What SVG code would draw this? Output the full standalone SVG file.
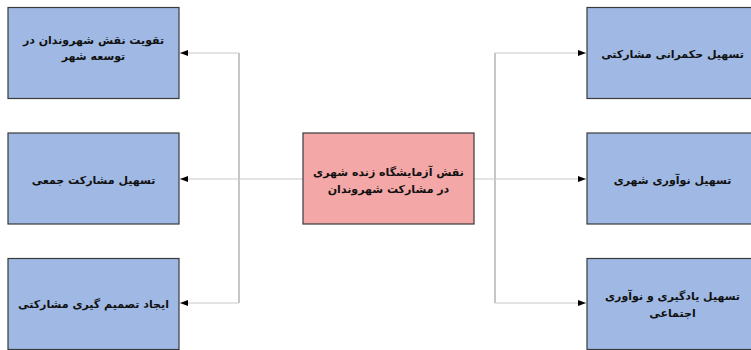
<svg xmlns="http://www.w3.org/2000/svg" width="751" height="350" viewBox="0 0 751 350">
<style>
.box{fill:#9fb9e4;stroke:#3a3a3a;stroke-width:1.2}
.center{fill:#f4a7a7;stroke:#3a3a3a;stroke-width:1.2}
.t{font-family:"DejaVu Sans",sans-serif;font-weight:bold;font-size:11px;fill:#111;text-anchor:middle;direction:rtl}
.trunk{stroke:#a8a8a8;stroke-width:1.3;fill:none}
.h{stroke:#c8c8c8;stroke-width:1;fill:none}
</style>
<defs>
<marker id="ah" markerWidth="8" markerHeight="6" refX="8" refY="3" orient="auto" markerUnits="userSpaceOnUse">
<path d="M0,0 L8,3 L0,6 Z" fill="#000"/>
</marker>
</defs>
<rect width="751" height="350" fill="#fff"/>
<g id="connectors">
<path class="trunk" d="M239,53 V303"/>
<path class="h" d="M239,53 H180" marker-end="url(#ah)"/>
<path class="h" d="M303,179 H180" marker-end="url(#ah)"/>
<path class="h" d="M239,303 H180" marker-end="url(#ah)"/>
<path class="trunk" d="M495,53 V303"/>
<path class="h" d="M495,53 H586" marker-end="url(#ah)"/>
<path class="h" d="M474,179 H586" marker-end="url(#ah)"/>
<path class="h" d="M495,303 H586" marker-end="url(#ah)"/>
</g>
<g id="n-center">
<rect class="center" x="303" y="133" width="171" height="91"/>
<text class="t" x="388.5" y="176">نقش آزمایشگاه زنده شهری</text>
<text class="t" x="388.5" y="193">در مشارکت شهروندان</text>
</g>
<g id="n-left1">
<rect class="box" x="8" y="7.5" width="171" height="91"/>
<text class="t" x="93.5" y="44">تقویت نقش شهروندان در</text>
<text class="t" x="93.5" y="60">توسعه شهر</text>
</g>
<g id="n-left2">
<rect class="box" x="8" y="133" width="171" height="91"/>
<text class="t" x="93.5" y="184">تسهیل مشارکت جمعی</text>
</g>
<g id="n-left3">
<rect class="box" x="8" y="258.5" width="171" height="91"/>
<text class="t" x="93.5" y="308">ایجاد تصمیم گیری مشارکتی</text>
</g>
<g id="n-right1">
<rect class="box" x="587" y="7.5" width="171" height="91"/>
<text class="t" x="672.5" y="58">تسهیل حکمرانی مشارکتی</text>
</g>
<g id="n-right2">
<rect class="box" x="587" y="133" width="171" height="91"/>
<text class="t" x="672.5" y="184">تسهیل نوآوری شهری</text>
</g>
<g id="n-right3">
<rect class="box" x="587" y="258.5" width="171" height="91"/>
<text class="t" x="672.5" y="300">تسهیل یادگیری و نوآوری</text>
<text class="t" x="672.5" y="317">اجتماعی</text>
</g>
</svg>
